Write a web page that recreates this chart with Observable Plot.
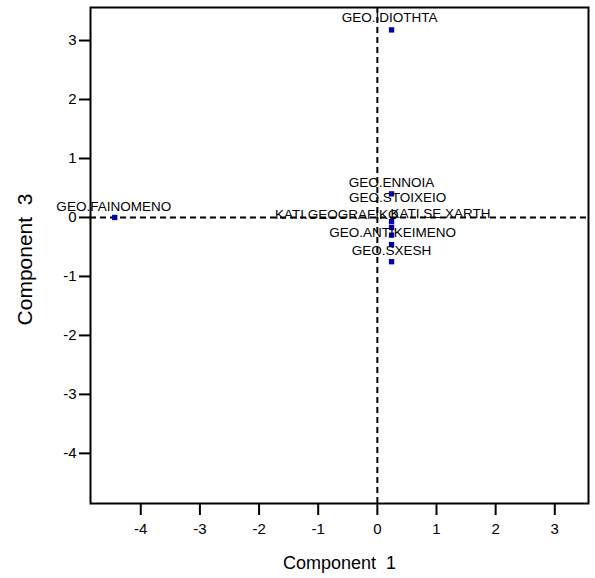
<!DOCTYPE html>
<html>
<head>
<meta charset="utf-8">
<script src="https://cdn.jsdelivr.net/npm/d3@7"></script>
<script src="https://cdn.jsdelivr.net/npm/@observablehq/plot@0.6"></script>
<style>
  html, body { margin: 0; padding: 0; background: #fff; }
  #chart svg { font-family: "Liberation Sans", Arial, sans-serif; }
</style>
</head>
<body>
<div id="chart"></div>
<script>
// Data
const labels = ["GEO.IDIOTHTA", "GEO.FAINOMENO", "GEO.ENNOIA", "GEO.STOIXEIO",
                "KATI.GEOGRAFIKO", "KATI.SE XARTH", "GEO.ANTIKEIMENO", "GEO.SXESH"];
const component1 = [0.24, -4.44, 0.24, 0.24, 0.24, 0.24, 0.24, 0.24];
const component3 = [3.18, 0.00, 0.40, -0.07, -0.17, -0.30, -0.46, -0.75];
const xTicks = [-4, -3, -2, -1, 0, 1, 2, 3];
const yTicks = [-4, -3, -2, -1, 0, 1, 2, 3];

// Label placement (layout only, pixels relative to the point)
const labelPlacement = {
  "GEO.IDIOTHTA":    {dx: -2, dy: -12, anchor: "middle"},
  "GEO.FAINOMENO":   {dx: -1, dy: -11, anchor: "middle"},
  "GEO.ENNOIA":      {dx: 0,  dy: -11, anchor: "middle"},
  "GEO.STOIXEIO":    {dx: 6,  dy: -24, anchor: "middle"},
  "KATI.GEOGRAFIKO": {dx: 7,  dy: -13, anchor: "end"},
  "KATI.SE XARTH":   {dx: -1, dy: -21, anchor: "start"},
  "GEO.ANTIKEIMENO": {dx: 1,  dy: -12, anchor: "middle"},
  "GEO.SXESH":       {dx: 0,  dy: -11, anchor: "middle"}
};

const points = labels.map((name, i) => ({name, c1: component1[i], c3: component3[i]}));

const labelMarks = points.map(p => {
  const pl = labelPlacement[p.name];
  return Plot.text([p], {x: "c1", y: "c3", text: "name", dx: pl.dx, dy: pl.dy,
    textAnchor: pl.anchor, fontSize: 13.5, fill: "#000"});
});

const chart = Plot.plot({
  width: 595,
  height: 578,
  marginLeft: 90,
  marginRight: 7,
  marginTop: 7,
  marginBottom: 75,
  style: {fontFamily: "'Liberation Sans', Arial, sans-serif", background: "#fff"},
  x: {domain: [-4.85, 3.57]},
  y: {domain: [-4.85, 3.56]},
  marks: [
    Plot.ruleX([0], {strokeDasharray: "6,4", strokeWidth: 2, stroke: "#000"}),
    Plot.ruleY([0], {strokeDasharray: "6,4", strokeWidth: 2, stroke: "#000"}),
    Plot.axisX({ticks: xTicks, tickSize: 12, strokeWidth: 2, fontSize: 15, tickPadding: 8,
      tickFormat: d => d.toString(), label: null, fill: "#000"}),
    Plot.axisY({ticks: yTicks, tickSize: 11, strokeWidth: 2, fontSize: 15, tickPadding: 3,
      tickFormat: d => d.toString(), label: null, fill: "#000"}),
    Plot.frame({stroke: "#000", strokeWidth: 2}),
    Plot.dot(points, {x: "c1", y: "c3", symbol: "square", r: 3, fill: "#0000b0", stroke: null}),
    ...labelMarks,
    Plot.text(["Component\u00a0\u00a01"], {frameAnchor: "bottom", dy: 60, lineAnchor: "middle",
      textAnchor: "middle", fontSize: 18, fill: "#000"}),
    Plot.text(["Component\u00a0\u00a03"], {frameAnchor: "left", dx: -65, dy: 4, rotate: -90,
      textAnchor: "middle", lineAnchor: "middle", fontSize: 21, fill: "#000"})
  ]
});
document.getElementById("chart").appendChild(chart);
</script>
</body>
</html>
